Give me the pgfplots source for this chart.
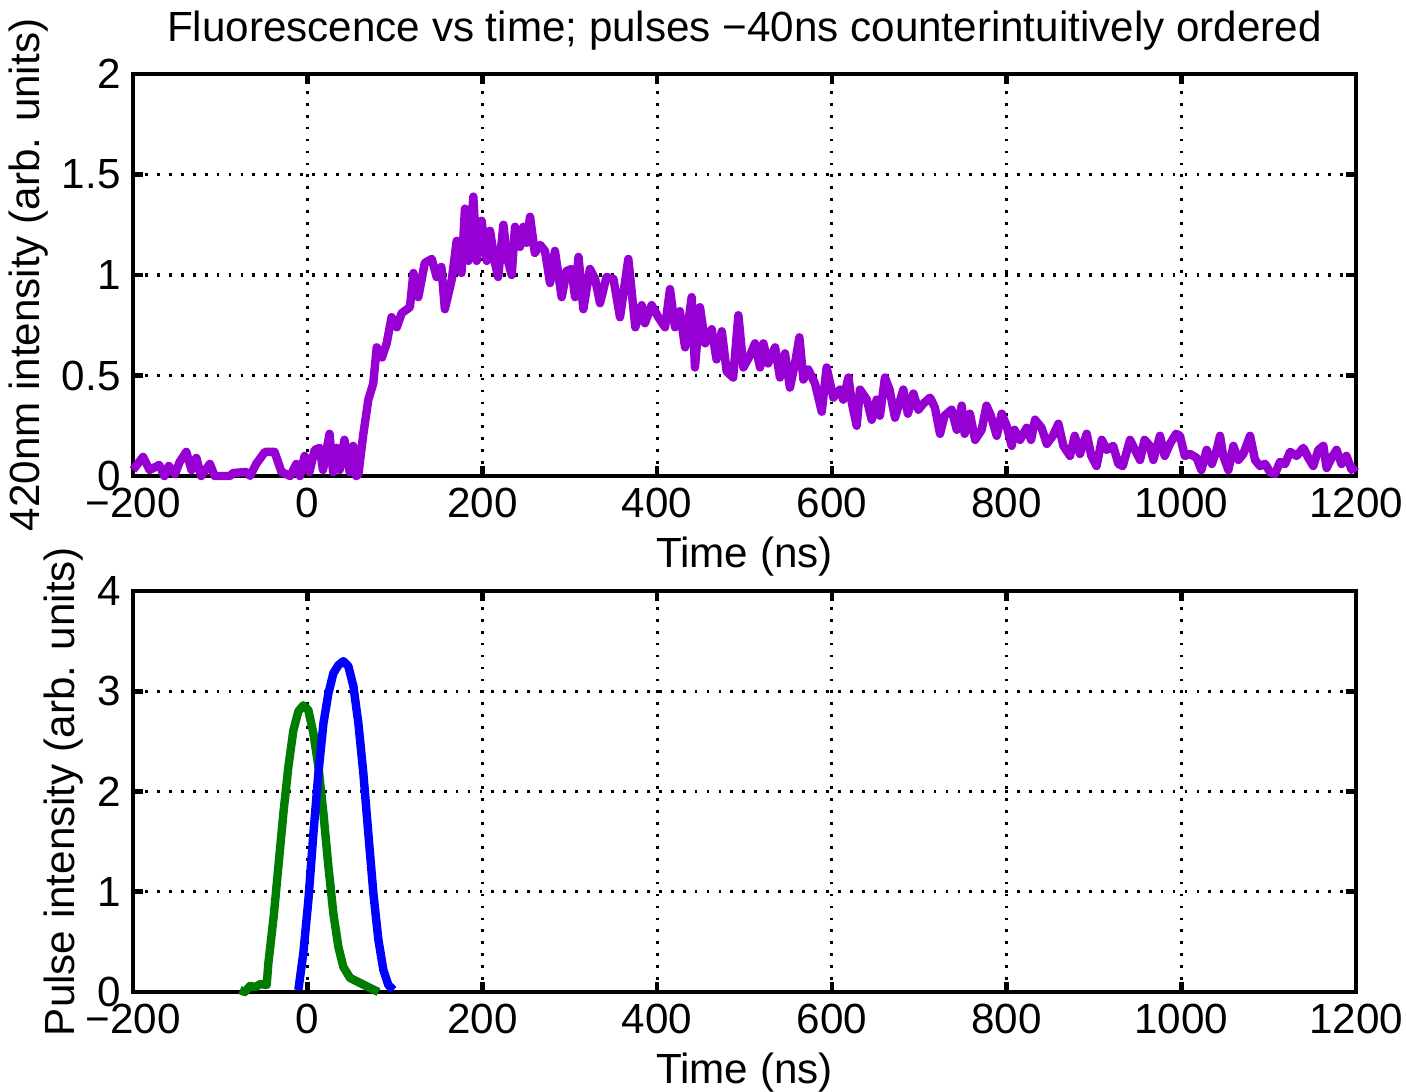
\documentclass[border=0pt]{standalone}
\usepackage{fontspec}
\setmainfont{Liberation Sans}
\usepackage{pgfplots}
\pgfplotsset{compat=1.18}
\definecolor{fluo}{RGB}{150,0,210}
\definecolor{pgreen}{RGB}{0,125,0}
\definecolor{pblue}{RGB}{0,0,255}

\pgfplotsset{mlab/.style={
    scale only axis,
    width=12.23cm,
    xmin=-200, xmax=1200,
    xtick={-200,0,200,400,600,800,1000,1200},
    xticklabels={−200,0,200,400,600,800,1000,1200},
    axis line style={line width=1.3pt},
    tick style={line width=1.3pt, black},
    major tick length=0.1cm,
    tick align=inside,
    grid=major,
    major grid style={black, line width=0.9pt, dash pattern=on 0.8pt off 2.6pt},
    ticklabel style={font=\fontsize{12}{14}\selectfont},
    label style={font=\fontsize{12}{14}\selectfont},
    title style={font=\fontsize{12}{14}\selectfont, yshift=-0.1cm},
    ylabel style={yshift=-0.1cm},
    xlabel style={yshift=0.05cm},
    xlabel={Time (ns)},
    clip=false,
    every axis plot/.append style={line width=2.4pt, line join=round},
}}

\begin{document}
\begin{tikzpicture}
\useasboundingbox (0,0) rectangle (14.06,-10.91);

% fluorescence trace
\begin{axis}[mlab,
    at={(1.33cm,-0.74cm)}, anchor=north west,
    height=4.02cm,
    ymin=0, ymax=2,
    ytick={0,0.5,1,1.5,2},
    yticklabels={0,0.5,1,1.5,2},
    ylabel={420nm intensity (arb. units)},
    title={Fluorescence vs time; pulses −40ns counterintuitively ordered},
]
\addplot[fluo] coordinates {
(-200,0.03) (-188.5,0.095) (-181,0.03) (-170,0.055) (-164,0.0) (-159,0.05)
(-152,0.01) (-146.6,0.07) (-139,0.12) (-133,0.03) (-127.5,0.09) (-122,0.0)
(-112,0.06) (-106.5,0.0) (-101,0.0) (-89,0.0) (-85.5,0.015) (-70,0.02)
(-66,0.0) (-59,0.06) (-49,0.12) (-38,0.12) (-30,0.02) (-20,0.0) (-13,0.06)
(-9,0.0) (-3.5,0.1) (2,0.02) (8,0.13) (13.7,0.14) (17.5,0.03) (25,0.21)
(29,0.02) (33,0.14) (36.6,0.03) (42,0.18) (48,0.02) (52,0.15) (55.6,0.0)
(58,0.01) (63.7,0.21) (69.4,0.38) (75,0.46) (79,0.64) (85,0.59) (90.4,0.66)
(96,0.79) (102,0.74) (107.5,0.81) (117,0.84) (121,1.01) (126.6,0.89)
(134,1.06) (142,1.08) (147.6,0.99) (153,1.04) (157,0.83) (165,0.98)
(170.5,1.17) (176,1.01) (180,1.33) (184,1.07) (189.6,1.39) (193.4,1.07)
(199,1.27) (205,1.07) (208.7,1.22) (214.4,1.06) (218,0.99) (224,1.25)
(228,1.09) (233.5,1.0) (237.3,1.24) (243,1.14) (247,1.24) (250.7,1.16)
(254.5,1.29) (260,1.11) (266,1.15) (271.6,1.12) (277.4,0.96) (283,1.12)
(290.7,0.89) (296.4,1.02) (302,1.03) (306,0.89) (310,1.09) (315.5,0.83)
(323,1.03) (329,0.98) (334.6,0.86) (342,0.99) (350,0.98) (357.5,0.79)
(367,1.08) (375,0.74) (382.3,0.85) (386,0.76) (393.7,0.85) (401.4,0.79)
(409,0.74) (414.7,0.93) (420.4,0.74) (426,0.82) (432,0.64) (439.5,0.89)
(443.3,0.54) (449,0.84) (455,0.66) (462.4,0.73) (468,0.58) (474,0.72)
(479.6,0.52) (487,0.49) (493,0.80) (498.7,0.54) (506.3,0.60) (512,0.66)
(517.8,0.54) (521.6,0.66) (527,0.56) (535,0.64) (540.6,0.49) (546.4,0.61)
(552,0.44) (557.8,0.56) (562.8,0.69) (567.4,0.48) (573,0.53) (580.7,0.46)
(588.4,0.32) (594,0.54) (601.7,0.39) (609.3,0.43) (613,0.38) (619,0.49)
(623,0.36) (628.4,0.25) (632.2,0.43) (640,0.38) (645.6,0.28) (651.3,0.38)
(655,0.30) (660.8,0.49) (666,0.43) (672.3,0.29) (681.8,0.43) (687,0.31)
(693.3,0.41) (699,0.33) (704.7,0.36) (712.4,0.39) (718,0.34) (723.8,0.21)
(729,0.30) (737,0.33) (743,0.23) (748.6,0.35) (752,0.21) (758,0.31)
(764,0.18) (771.5,0.23) (777,0.35) (782,0.30) (788.7,0.20) (794.4,0.31)
(800,0.25) (805.8,0.15) (809,0.23) (815.4,0.18) (823,0.24) (828,0.18)
(832.6,0.28) (840,0.24) (846,0.16) (853,0.20) (859.3,0.26) (865,0.15)
(872.6,0.10) (878,0.20) (884,0.11) (891.7,0.21) (897,0.10) (903,0.05)
(909,0.18) (914.6,0.13) (922,0.15) (928,0.06) (933,0.05) (941.3,0.18)
(947,0.13) (952.8,0.08) (958,0.18) (964,0.15) (968,0.08) (975.6,0.20)
(981,0.10) (987,0.16) (994,0.21) (998.5,0.20) (1004,0.10) (1010,0.11)
(1017.6,0.09) (1023,0.03) (1029,0.13) (1035,0.06) (1040.5,0.13) (1044.3,0.20)
(1048,0.10) (1053.9,0.03) (1059.6,0.15) (1065.3,0.08) (1071,0.11)
(1078.7,0.20) (1084.4,0.08) (1090,0.05) (1095.9,0.06) (1101.6,0.02)
(1107.3,0.01) (1113,0.07) (1118.8,0.06) (1124.5,0.12) (1132,0.10)
(1139.7,0.14) (1145.5,0.09) (1151,0.05) (1156.9,0.13) (1162.6,0.15)
(1166.4,0.04) (1172,0.09) (1177.7,0.13) (1183.4,0.06) (1189,0.10)
(1195,0.03) (1200,0.05)
};
\end{axis}

% pulse intensities
\begin{axis}[mlab,
    at={(1.33cm,-5.91cm)}, anchor=north west,
    height=4.01cm,
    ymin=0, ymax=4,
    ytick={0,1,2,3,4},
    yticklabels={0,1,2,3,4},
    ylabel={Pulse intensity (arb. units)},
]
\addplot[pgreen] coordinates {
(-77.5,0.02) (-72,0.0) (-66,0.06) (-60,0.05) (-54,0.08) (-47,0.07)
(-45,0.29) (-39,0.75) (-33.6,1.25) (-27.9,1.78) (-22.1,2.25) (-16.4,2.61)
(-10.7,2.80) (-5,2.86) (0.8,2.81) (6.5,2.58) (12.2,2.25) (18,1.78)
(23.7,1.25) (29.4,0.78) (35.1,0.45) (40.8,0.25) (48.5,0.14) (60,0.09)
(71.4,0.04) (81,0.0)
};
\addplot[pblue] coordinates {
(-10.7,0.02) (-5,0.39) (0.8,0.92) (6.5,1.58) (12.2,2.18) (18,2.68)
(23.7,2.98) (29.4,3.18) (35.1,3.26) (40.8,3.30) (46.5,3.25) (52.3,3.05)
(58,2.68) (63.7,2.18) (69.4,1.58) (75.2,0.98) (80.9,0.52) (86.6,0.22)
(92.3,0.07) (98,0.02)
};
\end{axis}
\end{tikzpicture}
\end{document}
